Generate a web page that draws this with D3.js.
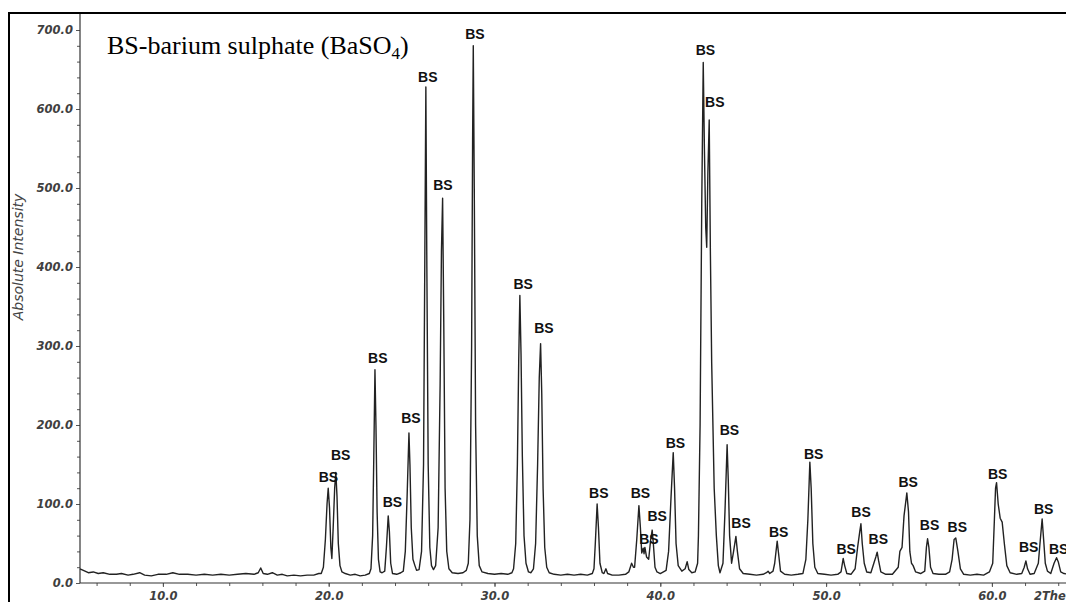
<!DOCTYPE html>
<html>
<head>
<meta charset="utf-8">
<script src="https://cdn.jsdelivr.net/npm/d3@7"></script>
<style>
body { margin: 0; background: #fff; }
</style>
</head>
<body>
<div id="vis"></div>
<script>
var width = 1066,
    height = 602

// scan: [2theta, absolute intensity]
var pattern = [
  [5.0,18],[5.2,16],[5.5,13],[5.8,14],[6.1,12],[6.4,13],[6.8,11],[7.2,11],[7.5,12],[7.9,10],
  [8.2,11],[8.6,13],[8.9,10],[9.3,9],[9.7,11],[10.2,11],[10.6,13],[11.0,11],[11.5,11],[12.0,10],
  [12.5,11],[13.0,10],[13.5,11],[14.0,10],[14.5,11],[15.0,12],[15.5,11],[15.75,13],[15.9,19],[16.05,12],
  [16.3,11],[16.6,13],[16.9,10],[17.2,11],[17.5,9],[17.9,10],[18.3,9],[18.7,10],[19.1,10],[19.4,12],
  [19.55,12],[19.68,20],[19.8,55],[19.9,100],[19.97,120],[20.05,95],[20.13,45],[20.19,31],[20.27,70],[20.36,120],
  [20.43,140],[20.5,110],[20.58,50],[20.68,22],[20.8,14],[21.0,12],[21.3,10],[21.6,11],[21.9,9],[22.2,10],
  [22.45,12],[22.55,18],[22.65,60],[22.72,160],[22.79,270],[22.85,200],[22.92,90],[23.0,30],[23.1,14],[23.22,13],
  [23.38,15],[23.48,45],[23.59,85],[23.66,65],[23.74,25],[23.85,12],[24.1,11],[24.35,13],[24.5,15],[24.62,40],
  [24.73,110],[24.84,190],[24.9,150],[24.98,70],[25.08,30],[25.2,22],[25.3,16],[25.45,17],[25.6,40],[25.72,150],
  [25.8,420],[25.86,628],[25.92,400],[26.0,150],[26.1,45],[26.2,22],[26.32,17],[26.45,22],[26.6,70],[26.72,250],
  [26.8,420],[26.87,487],[26.94,330],[27.02,120],[27.12,40],[27.25,18],[27.45,13],[27.8,12],[28.1,13],[28.3,16],
  [28.42,25],[28.52,80],[28.62,300],[28.68,560],[28.72,680],[28.78,500],[28.86,200],[28.96,60],[29.08,22],[29.25,14],
  [29.6,12],[30.0,11],[30.4,12],[30.8,11],[31.05,13],[31.15,18],[31.28,50],[31.38,150],[31.46,280],[31.53,364],
  [31.6,290],[31.68,160],[31.78,60],[31.9,25],[32.05,14],[32.2,13],[32.35,18],[32.48,50],[32.6,150],[32.7,260],
  [32.78,303],[32.85,240],[32.93,120],[33.03,45],[33.15,20],[33.3,13],[33.6,11],[34.0,10],[34.4,11],[34.8,10],
  [35.2,11],[35.6,10],[35.9,12],[36.0,18],[36.08,50],[36.19,100],[36.27,70],[36.36,25],[36.5,13],[36.6,12],
  [36.72,18],[36.82,12],[37.1,10],[37.5,10],[37.9,11],[38.1,14],[38.27,25],[38.38,20],[38.45,20],[38.58,55],
  [38.71,98],[38.8,70],[38.88,38],[38.97,44],[39.02,37],[39.07,45],[39.17,33],[39.3,30],[39.42,55],[39.51,67],
  [39.58,50],[39.68,20],[39.8,14],[40.0,12],[40.35,16],[40.5,40],[40.65,110],[40.78,165],[40.86,120],[40.95,50],
  [41.08,22],[41.3,15],[41.5,18],[41.62,27],[41.72,17],[41.9,13],[42.1,14],[42.25,25],[42.3,60],[42.4,200],
  [42.5,480],[42.59,659],[42.66,550],[42.74,450],[42.8,425],[42.87,520],[42.95,586],[43.02,420],[43.1,278],[43.25,120],
  [43.38,60],[43.5,22],[43.6,13],[43.78,25],[43.9,90],[44.03,175],[44.1,130],[44.18,60],[44.3,25],[44.42,40],
  [44.56,59],[44.65,40],[44.78,18],[45.0,12],[45.4,11],[45.8,10],[46.2,11],[46.4,13],[46.5,15],[46.6,12],
  [46.8,15],[46.9,25],[47.05,53],[47.13,38],[47.25,15],[47.5,11],[47.9,10],[48.3,11],[48.6,12],[48.78,30],
  [48.9,80],[49.02,153],[49.1,120],[49.2,50],[49.32,20],[49.5,12],[49.9,11],[50.3,10],[50.7,11],[50.9,14],
  [51.03,31],[51.12,22],[51.25,12],[51.5,11],[51.75,18],[51.9,45],[52.03,65],[52.1,75],[52.18,50],[52.3,25],
  [52.45,14],[52.7,13],[52.88,25],[53.0,33],[53.08,39],[53.17,28],[53.3,14],[53.6,11],[54.0,11],[54.35,20],
  [54.45,40],[54.58,45],[54.7,85],[54.87,114],[54.97,90],[55.05,40],[55.15,25],[55.25,22],[55.4,14],[55.7,12],
  [55.95,15],[56.05,45],[56.12,56],[56.2,45],[56.3,20],[56.45,12],[56.8,11],[57.2,11],[57.45,14],[57.6,30],
  [57.72,55],[57.82,57],[57.95,40],[58.1,18],[58.3,11],[58.7,10],[59.1,11],[59.5,10],[59.85,14],[60.05,25],
  [60.15,80],[60.22,120],[60.28,127],[60.38,100],[60.5,82],[60.62,77],[60.75,50],[60.9,22],[61.1,13],[61.5,11],
  [61.8,12],[61.95,20],[62.05,28],[62.15,18],[62.3,11],[62.55,12],[62.8,25],[62.9,50],[63.03,81],[63.12,55],
  [63.22,25],[63.35,15],[63.55,12],[63.75,25],[63.9,32],[64.0,27],[64.15,14],[64.35,12],[64.6,11]
];

// "BS" peak markers (where the text sits)
var labelTheta = [19.98,20.72,22.96,23.84,24.96,25.98,26.89,28.82,31.73,32.98,
                  36.29,38.8,39.31,39.81,40.91,42.72,43.29,44.17,44.87,47.14,
                  49.25,51.21,52.11,53.15,54.95,56.24,57.91,60.35,62.22,63.12,64.03];
var labelIntensity = [128,156,278,96,202,634,497,688,372,316,
                      107,108,50,79,171,668,602,187,69,58,
                      157,37,83,50,121,67,64,132,39,87,37];

var yMajor = [0,100,200,300,400,500,600,700];
var yMinor = d3.range(0, 701, 20);
var xMajor = [10,20,30,40,50,60];
var xMinor = d3.range(6, 65, 2);

var svg = d3.select("#vis").append("svg")
    .attr("width", width)
    .attr("height", height)

var x = d3.scaleLinear().domain([5, 65]).range([80, 1074.8]);
var y = d3.scaleLinear().domain([0, 700]).range([583, 30]);

var tickFont = "'DejaVu Sans', Verdana, sans-serif";
var tickColor = "#3f3f3f";

//----------AXES---------//
var yMinorAxis = svg.append("g")
    .attr("transform", "translate(80,0)")
    .call(d3.axisLeft(y).tickValues(yMinor).tickSize(3).tickFormat(""));
yMinorAxis.select(".domain").remove();

var yAxis = svg.append("g")
    .attr("transform", "translate(80,0)")
    .call(d3.axisLeft(y).tickValues(yMajor).tickSize(4).tickSizeOuter(0).tickPadding(3)
        .tickFormat(d3.format(".1f")));
yAxis.select(".domain").remove();

var xMinorAxis = svg.append("g")
    .attr("transform", "translate(0,583)")
    .call(d3.axisBottom(x).tickValues(xMinor).tickSize(3).tickFormat(""));
xMinorAxis.select(".domain").remove();

var xAxis = svg.append("g")
    .attr("transform", "translate(0,583)")
    .call(d3.axisBottom(x).tickValues(xMajor).tickSize(4).tickSizeOuter(0).tickPadding(5)
        .tickFormat(d3.format(".1f")));
xAxis.select(".domain").remove();

svg.selectAll(".tick line").attr("stroke", "#555");
svg.selectAll(".tick text")
    .style("font-family", tickFont)
    .style("font-size", "11.5px")
    .style("font-weight", "bold")
    .style("font-style", "italic")
    .style("fill", tickColor);

// axis lines
svg.append("line")
    .attr("x1", 80).attr("x2", 80)
    .attr("y1", 13).attr("y2", y(0))
    .attr("stroke", "#333").attr("stroke-width", 1.2);
svg.append("line")
    .attr("x1", 80).attr("x2", width)
    .attr("y1", y(0)).attr("y2", y(0))
    .attr("stroke", "#333").attr("stroke-width", 1.2);

svg.append("text")
    .attr("x", 1034)
    .attr("y", 600)
    .style("font-family", tickFont)
    .style("font-size", "11.5px")
    .style("font-weight", "bold")
    .style("font-style", "italic")
    .style("fill", tickColor)
    .text("2Theta");

svg.append("text")
    .attr("transform", "translate(23,257) rotate(-90)")
    .attr("text-anchor", "middle")
    .style("font-family", tickFont)
    .style("font-size", "14px")
    .style("font-style", "italic")
    .style("fill", "#444")
    .text("Absolute Intensity");

//----------PATTERN---------//
var line = d3.line()
    .x(function(d) { return x(d[0]); })
    .y(function(d) { return y(d[1]); });

svg.append("path")
    .datum(pattern)
    .attr("d", line)
    .attr("fill", "none")
    .attr("stroke", "#222")
    .attr("stroke-width", 1.4)
    .attr("stroke-linejoin", "round");

//----------LABELS---------//
svg.selectAll(".peaklabel")
    .data(labelTheta)
    .enter()
    .append("text")
    .attr("class", "peaklabel")
    .attr("x", function(d) { return x(d); })
    .attr("y", function(d, i) { return y(labelIntensity[i]); })
    .attr("text-anchor", "middle")
    .style("font-family", "'Liberation Sans', Arial, sans-serif")
    .style("font-size", "14px")
    .style("font-weight", "bold")
    .style("fill", "#111")
    .text("BS");

var title = svg.append("text")
    .attr("x", 107)
    .attr("y", 54)
    .style("font-family", "'Liberation Serif', 'Times New Roman', serif")
    .style("font-size", "26px")
    .style("fill", "#000");
title.append("tspan").text("BS-barium sulphate (BaSO");
title.append("tspan").attr("dy", 5).style("font-size", "17px").text("4");
title.append("tspan").attr("dy", -5).text(")");

// frame
svg.append("line")
    .attr("x1", 9).attr("x2", width)
    .attr("y1", 13).attr("y2", 13)
    .attr("stroke", "#000").attr("stroke-width", 2);
svg.append("line")
    .attr("x1", 9).attr("x2", 9)
    .attr("y1", 12).attr("y2", height)
    .attr("stroke", "#000").attr("stroke-width", 2);
</script>
</body>
</html>
